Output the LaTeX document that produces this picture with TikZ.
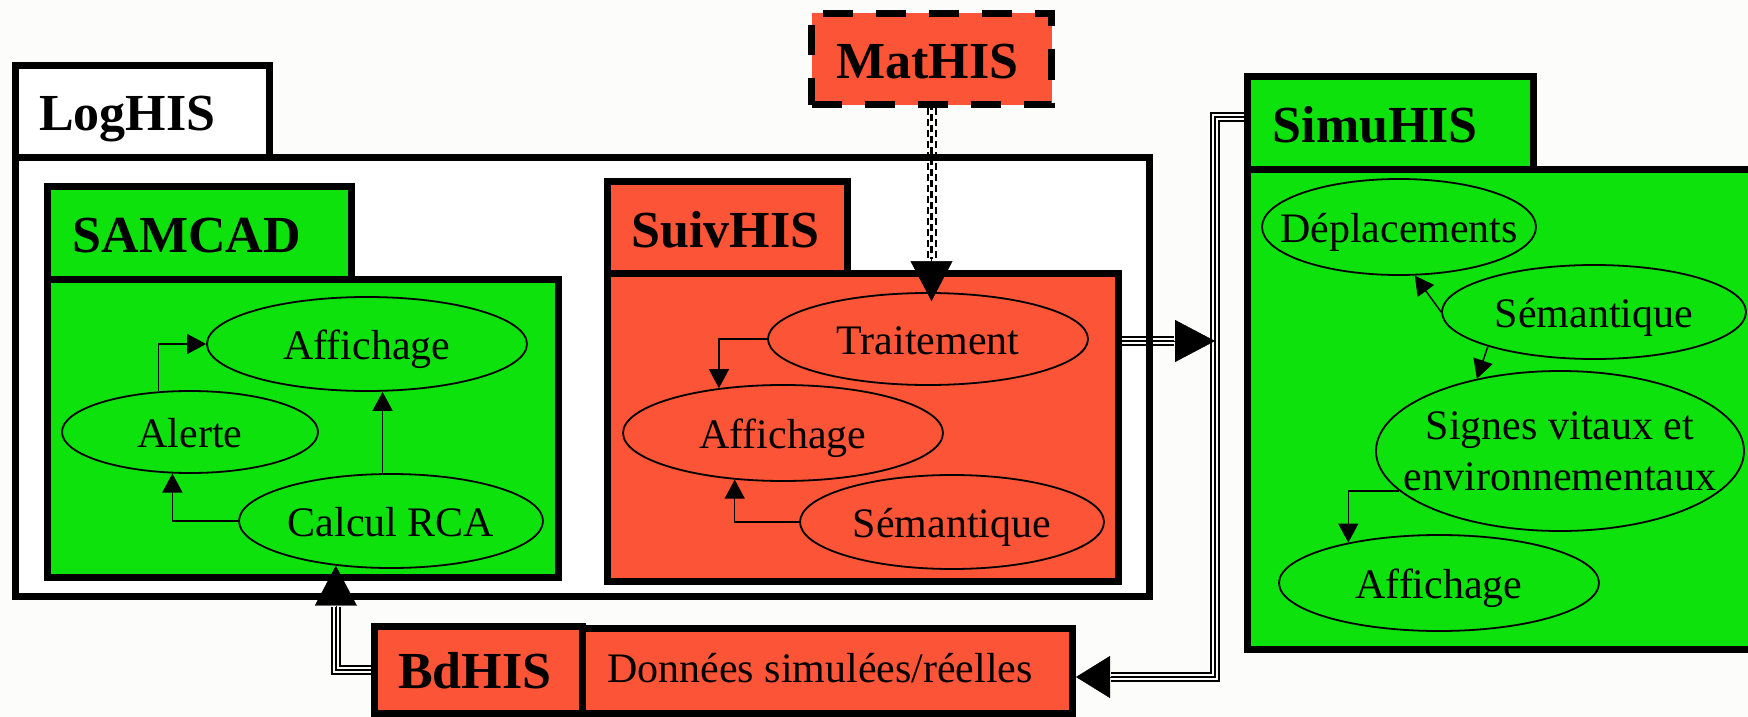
\documentclass[tikz,border=0pt]{standalone}
\usepackage{fontspec}
\setmainfont{Liberation Serif}
\usetikzlibrary{arrows.meta,shapes.geometric}
\definecolor{hgreen}{RGB}{13,226,13}
\definecolor{horange}{RGB}{252,84,54}
\definecolor{bgc}{RGB}{252,252,250}
\newcommand\triplepath[1]{\draw[line width=9.5pt,black]#1;\draw[line width=5.8pt,bgc]#1;\draw[line width=1.6pt,black]#1;}
\begin{document}
\begin{tikzpicture}[x=1pt,y=-1pt,
  pkg/.style={draw=black, line width=7pt, rectangle, inner sep=0pt},
  ttl/.style={font=\fontsize{52pt}{60pt}\selectfont\bfseries, inner sep=0pt, anchor=base west},
  ell/.style={draw=black, line width=1.8pt, ellipse, inner sep=0pt},
  etxt/.style={font=\fontsize{42pt}{51pt}\selectfont, inner sep=0pt, text height=30pt, text depth=0pt},
  arr/.style={line width=1.5pt, -{Triangle[length=19pt,width=20pt]}},
  bighead/.style={line width=0.4pt, -{Triangle[length=#1,width=42pt]}},
]
\useasboundingbox (0,0) rectangle (1748,717);
\clip (0,0) rectangle (1748,717);
\fill[bgc] (0,0) rectangle (1748,717);

% LogHIS
\node[pkg, fill=white, minimum width=254pt, minimum height=92pt] (logtab) at (142.5,111.5) {};
\node[pkg, fill=white, minimum width=1134pt, minimum height=439pt] (logmain) at (582.5,377) {};
% SAMCAD
\node[pkg, fill=hgreen, minimum width=304pt, minimum height=93pt] (samtab) at (199,233) {};
\node[pkg, fill=hgreen, minimum width=511.5pt, minimum height=298pt] (sammain) at (302.75,428.5) {};
% SuivHIS
\node[pkg, fill=horange, minimum width=240pt, minimum height=92pt] (suivtab) at (727.5,227.5) {};
\node[pkg, fill=horange, minimum width=511pt, minimum height=308pt] (suivmain) at (863,427.5) {};
% MatHIS
\node[pkg, fill=horange, dash pattern=on 30pt off 23pt, minimum width=240pt, minimum height=91pt] (mathis) at (931.5,59) {};
% SimuHIS
\node[pkg, fill=hgreen, minimum width=286pt, minimum height=93pt] (simutab) at (1390.5,123) {};
\node[pkg, fill=hgreen, minimum width=522.5pt, minimum height=480pt] (simumain) at (1508.75,409.5) {};
% BdHIS
\node[pkg, fill=horange, minimum width=491pt, minimum height=85pt] (donnees) at (827,671) {};
\node[pkg, fill=horange, minimum width=207.5pt, minimum height=87pt] (bdhis) at (478.25,670) {};

% titles
\node[ttl] (tlog) at (39,130) {LogHIS};
\node[ttl] (tsam) at (72.5,252) {SAMCAD};
\node[ttl] (tsuiv) at (631.5,247) {SuivHIS};
\node[ttl] (tmat) at (836,78) {MatHIS};
\node[ttl] (tsimu) at (1272.5,142) {SimuHIS};
\node[ttl] (tbd) at (398,688) {BdHIS};
\node[font=\fontsize{42pt}{51pt}\selectfont, inner sep=0pt, anchor=base west] (tdon) at (607,682) {Données simulées/réelles};

% SAMCAD ellipses
\node[ell, minimum width=320pt, minimum height=94pt] (aff1) at (367,344) {};
\node[etxt] (taff1) at (aff1) {Affichage};
\node[ell, minimum width=256pt, minimum height=82pt] (alerte) at (190,432) {};
\node[etxt] (talerte) at (alerte) {Alerte};
\node[ell, minimum width=304pt, minimum height=94pt] (calc) at (391,521) {};
\node[etxt] (tcalc) at (calc) {Calcul RCA};
% SuivHIS ellipses
\node[ell, minimum width=320pt, minimum height=92pt] (trait) at (928,339) {};
\node[etxt] (ttrait) at (trait) {Traitement};
\node[ell, minimum width=320pt, minimum height=96pt] (aff2) at (783,433) {};
\node[etxt] (taff2) at (aff2) {Affichage};
\node[ell, minimum width=304pt, minimum height=94pt] (sem2) at (952,522) {};
\node[etxt] (tsem2) at (sem2) {Sémantique};
% SimuHIS ellipses
\node[ell, minimum width=274pt, minimum height=96pt] (depl) at (1399,227) {};
\node[etxt] (tdepl) at (depl) {Déplacements};
\node[ell, minimum width=304pt, minimum height=94pt] (sem3) at (1594,312) {};
\node[etxt] (tsem3) at (sem3) {Sémantique};
\node[ell, minimum width=368pt, minimum height=160pt] (sig) at (1560,451) {};
\node[font=\fontsize{42pt}{51pt}\selectfont, inner sep=0pt, align=center] (tsig) at (sig) {Signes vitaux et\\environnementaux};
\node[ell, minimum width=320pt, minimum height=96pt] (aff3) at (1439,583) {};
\node[etxt] (taff3) at (aff3) {Affichage};

% thin arrows
\draw[arr] (alerte.128) |- (aff1.west);
\draw[arr] (calc.west) -| (alerte.247);
\draw[arr] (calc.100) -- (calc.100 |- aff1.south);
\draw[arr] (trait.west) -| (aff2.145);
\draw[arr] (sem2.west) -| (aff2.224);
\draw[arr] (sem3.west) -- (depl.288);
\draw[arr] (sem3.198) -- (sig.139);
\draw[arr] (sig.194.5) -| (aff3.156.5);

% MatHIS -> Traitement (dashed)
\coordinate (mt0) at (mathis.south |- trait.north);
\coordinate (mtip) at ([yshift=-9pt]mt0);
\coordinate (mbase) at ([yshift=42pt]mtip);
\draw[line width=10pt, dash pattern=on 7pt off 4pt] (mathis.south) -- (mbase);
\draw[line width=6pt, bgc] (mathis.south) -- (mbase);
\draw[line width=2.4pt, dash pattern=on 7pt off 4pt, dash phase=5pt] (mathis.south) -- (mbase);

% SuivHIS -> bus, SimuHIS -> Donnees
\coordinate (busT) at (1215,117);
\coordinate (busB) at (1215,677);
\coordinate (sj) at (1215,341);
\coordinate (sbase) at ([xshift=-41pt]sj);
\coordinate (dtip) at (donnees.east |- busB);
\coordinate (dbase) at ([xshift=35pt]dtip);
\triplepath{(simutab.west |- busT) -- (busT) -- (busB) -- (dbase)}
\triplepath{(suivmain.east |- sj) -- (sbase)}

% BdHIS -> Calcul RCA
\coordinate (ctip) at (calc.219);
\coordinate (cbase) at ([yshift=-41pt]ctip);
\triplepath{(bdhis.west) -- (bdhis.west -| ctip) -- (cbase)}

% LogHIS border on top of crossing lines
\draw[line width=7pt] (15.5,157.5) rectangle (1149.5,596.5);

% big arrowheads
\draw[bighead=40pt] (mbase) -- (mtip);
\draw[bighead=40pt] (sbase) -- (sj);
\draw[bighead=34pt] (dbase) -- (dtip);
\draw[bighead=40pt] (cbase) -- (ctip);
\end{tikzpicture}
\end{document}
